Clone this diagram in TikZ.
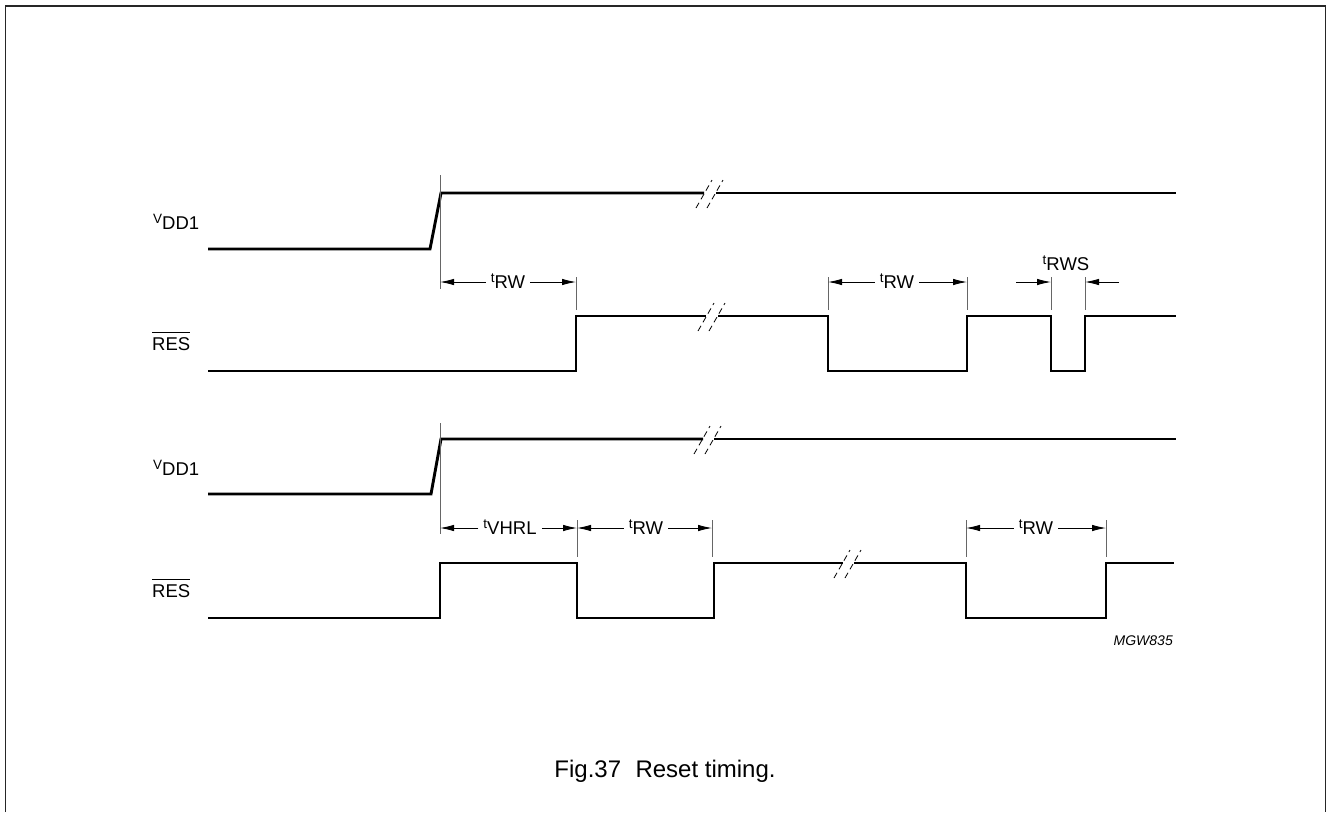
\documentclass[tikz,border=0pt]{standalone}
\usepackage{fontspec}
\setmainfont{Liberation Sans}
\usetikzlibrary{arrows.meta}
\newcommand\lbl[2]{\raisebox{6pt}{\fontsize{13.5}{13.5}\selectfont #1}#2}
\newcommand\ovl[1]{\vbox{\hrule height 1.2pt\kern4pt\hbox{#1}}}
\newcommand\brkmark[2]{%
  \draw[brkl] (#1-14,#2+15) -- (#1+2,#2-13);
  \draw[brkl] (#1-3,#2+15) -- (#1+13,#2-13);}
\begin{document}
\begin{tikzpicture}[x=1pt,y=-1pt,
  sig/.style={line width=2.9pt,line join=miter,line cap=butt},
  tick/.style={line width=0.9pt,black!60},
  dim/.style={line width=0.9pt,-{Latex[length=14pt,width=6.5pt]}},
  brkl/.style={line width=0.8pt,dash pattern=on 6pt off 4pt},
  lab/.style={font=\fontsize{18.5}{18.5}\selectfont,inner sep=0pt,anchor=base west},
  tl/.style={font=\fontsize{18.5}{18.5}\selectfont,inner xsep=5pt,inner ysep=0pt,anchor=base}]
\useasboundingbox (0,0) rectangle (1327,812);
\draw[line width=1.5pt,black!85] (5.5,812) -- (5.5,6) -- (1325.5,6) -- (1325.5,812);

% signal labels
\node[lab] (v1) at (153,229) {\lbl{V}{DD1}};
\node[lab] (r1) at (152,350) {\ovl{RES}};
\node[lab] (v2) at (153,475) {\lbl{V}{DD1}};
\node[lab] (r2) at (152,597) {\ovl{RES}};

% waveforms
\draw[sig] (208,249) -- (430,249) -- (441,193) -- (704,193);
\draw[sig] (716,193) -- (1176,193);
\brkmark{710}{193}
\draw[sig] (208,371) -- (576,371) -- (576,316) -- (706,316);
\draw[sig] (718,316) -- (828,316) -- (828,371) -- (967,371) -- (967,316) -- (1051,316) -- (1051,371) -- (1085,371) -- (1085,316) -- (1176,316);
\brkmark{712}{316}
\draw[sig] (208,494) -- (431,494) -- (441,439) -- (703,439);
\draw[sig] (714,439) -- (1176,439);
\brkmark{708}{439}
\draw[sig] (208,618) -- (440,618) -- (440,563) -- (577,563) -- (577,618) -- (714,618) -- (714,563) -- (843,563);
\draw[sig] (854,563) -- (966,563) -- (966,618) -- (1106,618) -- (1106,563) -- (1174,563);
\brkmark{848}{563}

% ticks top
\draw[tick] (440,175) -- (440,289);
\draw[tick] (576,277) -- (576,310);
\draw[tick] (828,277) -- (828,310);
\draw[tick] (967,277) -- (967,310);
\draw[tick] (1051,277) -- (1051,310);
\draw[tick] (1085,277) -- (1085,310);
% ticks bottom
\draw[tick] (440,423) -- (440,534);
\draw[tick] (577,520) -- (577,557);
\draw[tick] (712,520) -- (712,557);
\draw[tick] (966,520) -- (966,557);
\draw[tick] (1106,520) -- (1106,557);

% dimension arrows top
\coordinate (a1) at (440,282); \coordinate (a2) at (576,282);
\node[tl] (t1) at (508,288) {\lbl{t}{RW}};
\draw[dim] (t1.west |- a1) -- (a1);
\draw[dim] (t1.east |- a2) -- (a2);
\coordinate (b1) at (828,282); \coordinate (b2) at (967,282);
\node[tl] (t2) at (897,288) {\lbl{t}{RW}};
\draw[dim] (t2.west |- b1) -- (b1);
\draw[dim] (t2.east |- b2) -- (b2);
\coordinate (c1) at (1051,282); \coordinate (c2) at (1085,282);
\coordinate (c0) at (1016,282); \coordinate (c3) at (1119,282);
\node[tl] (t3) at (1066,270) {\lbl{t}{RWS}};
\draw[dim] (c0) -- (c1);
\draw[dim] (c3) -- (c2);

% dimension arrows bottom
\coordinate (d1) at (440,528); \coordinate (d2) at (577,528); \coordinate (d3) at (712,528);
\node[tl] (t4) at (510,534) {\lbl{t}{VHRL}};
\draw[dim] (t4.west |- d1) -- (d1);
\draw[dim] (t4.east |- d2) -- (d2);
\node[tl] (t5) at (646,534) {\lbl{t}{RW}};
\draw[dim] (t5.west |- d2) -- (d2);
\draw[dim] (t5.east |- d3) -- (d3);
\coordinate (e1) at (966,528); \coordinate (e2) at (1106,528);
\node[tl] (t6) at (1036,534) {\lbl{t}{RW}};
\draw[dim] (t6.west |- e1) -- (e1);
\draw[dim] (t6.east |- e2) -- (e2);

\node[anchor=base east,inner sep=0pt,font=\fontsize{14}{14}\selectfont\itshape] (code) at (1173,645) {MGW835};
\node[anchor=base,inner sep=0pt,font=\fontsize{24}{24}\selectfont] (cap) at (665,777) {Fig.37\hspace{0.6em}Reset timing.};
\end{tikzpicture}
\end{document}
